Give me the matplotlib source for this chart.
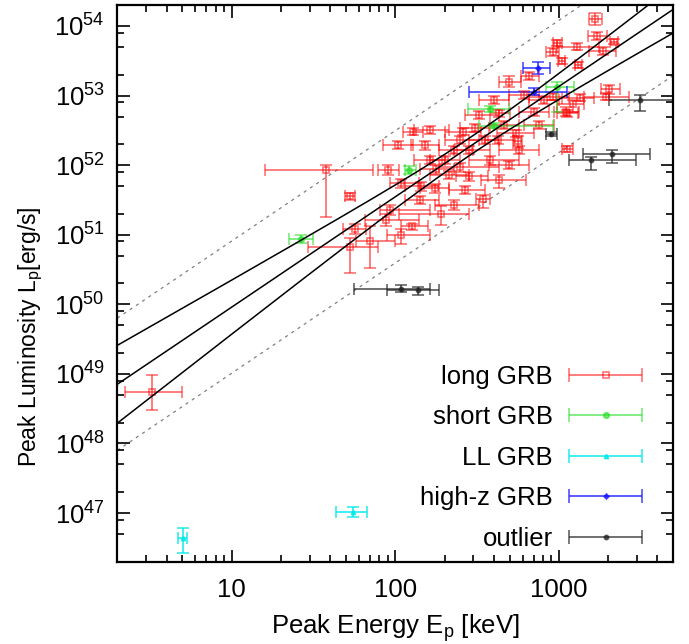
import numpy as np
import matplotlib
matplotlib.use("Agg")
import matplotlib.pyplot as plt
from matplotlib.container import ErrorbarContainer
from matplotlib.legend_handler import HandlerErrorbar
from matplotlib.ticker import (LogLocator, FixedLocator, FuncFormatter,
                               NullFormatter, LogFormatterMathtext)

plt.rcParams['font.family'] = ['Liberation Sans', 'DejaVu Sans']
plt.rcParams['mathtext.fontset'] = 'custom'
plt.rcParams['mathtext.rm'] = 'Liberation Sans'
plt.rcParams['mathtext.it'] = 'Liberation Sans:italic'
plt.rcParams['mathtext.bf'] = 'Liberation Sans:bold'

# === DATA (Ep in keV, Lp in units of 1e52 erg/s) ===
# long GRB
long_E = [3.25, 37.9, 52.6, 128, 103.8, 90.2, 108.8, 92.3, 88.1, 56.5, 52.6, 69.7,
          107.7, 126, 151, 1128, 178, 247, 284, 432, 144, 174, 342, 191, 258, 546,
          559, 327, 1104, 423, 432, 498, 660, 970, 914, 1664, 1718, 1298, 1864, 2175,
          1043, 1316, 2027, 1935, 1343, 1211, 1128, 914, 200, 230, 284, 351, 380, 464,
          214, 265, 573, 707, 759, 403, 813, 305, 162, 498, 230, 141, 162, 247, 614]
long_E_lo = [2.24, 16.1, 49.1, 111, 84, 78, 92.3, 80.2, 65, 47.9, 29.3, 57.3,
             88.5, 107.7, 125, 1043, 141, 186, 236, 334, 114, 141, 312, 106, 200, 421,
             526, 265, 936, 351, 380, 432, 589, 914, 834, 1530, 1515, 980, 1530, 2055,
             990, 1257, 1803, 1427, 1047, 977, 977, 660, 162, 186, 230, 284, 284, 380,
             162, 214, 432, 573, 614, 327, 660, 247, 131, 376, 174, 114, 131, 200, 498]
long_E_hi = [4.95, 73.0, 56.5, 147, 128, 106, 140.6, 162, 140.6, 66.6, 78.3, 99.1,
             162, 158, 186, 1211, 230, 432, 367, 630, 186, 214, 380, 281, 334, 707,
             597, 432, 1330, 534, 500, 589, 759, 1040, 1004, 1844, 1979, 1760, 2245, 2299,
             1092, 1387, 2355, 2684, 1641, 1427, 1311, 1156, 247, 300, 380, 432, 573, 573,
             284, 351, 759, 870, 936, 498, 1004, 376, 200, 660, 327, 186, 214, 327, 759]
long_L = [5.48e-4, 0.859, 0.356, 3.04, 1.96, 0.859, 0.554, 0.229, 0.165, 0.121, 0.0669, 0.0804,
          0.098, 0.132, 1.92, 1.72, 0.879, 0.94, 0.689, 0.618, 0.495, 0.469, 0.326, 0.201, 3.04, 2.89,
          2.19, 5.28, 5.89, 2.31, 5.6, 15.9, 19.2, 57, 42, 126, 72.6, 50, 43.8, 59.6,
          31.5, 27.3, 12.4, 9.68, 9.36, 7.6, 5.59, 9.68, 1.19, 1.66, 1.66, 2.31, 1.19, 3.80,
          0.728, 0.444, 1.66, 5.83, 3.80, 8.67, 8.67, 3.44, 1.19, 1.01, 0.271, 0.319, 3.22, 2.31, 10.2]
long_L_lo = [2.99e-4, 0.180, 0.319, 2.73, 1.72, 0.728, 0.474, 0.194, 0.135, 0.104, 0.0283, 0.0334,
             0.0745, 0.118, 1.66, 1.56, 0.753, 0.804, 0.598, 0.469, 0.43, 0.402, 0.242, 0.140, 2.73, 2.55,
             1.78, 4.63, 5.11, 2.03, 5.0, 13.3, 16.8, 51.6, 37.2, 103, 63, 45.3, 38.4, 55.2,
             28.5, 25, 10.6, 8.67, 8.39, 5.83, 4.95, 8.67, 1.05, 1.46, 1.46, 2.03, 1.01, 3.33,
             0.638, 0.389, 1.46, 5.11, 3.33, 7.6, 7.6, 3.01, 1.05, 0.887, 0.229, 0.279, 2.82, 2.03, 8.98]
long_L_hi = [9.5e-4, 1.01, 0.402, 3.44, 2.24, 1.01, 0.638, 0.271, 0.201, 0.144, 0.0908, 0.132,
             0.122, 0.144, 2.24, 1.90, 1.01, 1.08, 0.804, 0.728, 0.578, 0.541, 0.376, 0.256, 3.44, 3.22,
             2.64, 6.03, 6.89, 2.64, 6.3, 19.2, 21.9, 63, 48.3, 152, 82, 57, 50, 65,
             34.8, 30.5, 14.3, 10.9, 10.6, 8.67, 6.24, 10.9, 1.36, 1.90, 1.90, 2.64, 1.36, 4.33,
             0.813, 0.506, 1.90, 6.66, 4.33, 9.91, 9.91, 3.93, 1.36, 1.16, 0.319, 0.364, 3.67, 2.64, 11.7]

# short GRB
short_E = [122, 26.7, 380, 403, 980]
short_E_lo = [114, 22.3, 278, 327, 834]
short_E_hi = [134, 31.6, 498, 914, 1230]
short_L = [0.859, 0.0871, 6.38, 3.71, 13.2]
short_L_lo = [0.753, 0.0762, 5.83, 3.44, 5.83]
short_L_hi = [0.98, 0.0997, 7.11, 4.0, 15.7]

# low-luminosity GRB
ll_E = [5.02, 55.1]
ll_E_lo = [4.72, 43.7]
ll_E_hi = [5.36, 67.1]
ll_L = [4.37e-6, 1.05e-5]
ll_L_lo = [2.63e-6, 8.9e-6]
ll_L_hi = [6.0e-6, 1.23e-5]

# high-z GRB
hz_E = [741, 707]
hz_E_lo = [606, 284]
hz_E_hi = [881, 1128]
hz_L = [25.2, 11.4]
hz_L_lo = [20.5, 10.2]
hz_L_hi = [30.1, 12.9]

# outliers
out_E = [3133, 2124, 1567, 894, 108.8, 137.4]
out_E_lo = [2027, 1406, 1146, 834, 55.9, 89.3]
out_E_hi = [6237, 3590, 2951, 977, 161.9, 184.5]
out_L = [8.67, 1.46, 1.17, 2.79, 0.0167, 0.0159]
out_L_lo = [6.03, 1.07, 0.84, 2.64, 0.0148, 0.0138]
out_L_hi = [10.2, 1.66, 1.33, 2.95, 0.0187, 0.018]

# fit: log L = FIT_LP + FIT_SLOPE * (log E - FIT_PIVOT), with confidence band and scatter
FIT_SLOPE = 1.586
FIT_PIVOT = 2.454
FIT_LP = 52.265
BAND_S0 = 0.126
BAND_S1 = 0.253
SCATTER = 0.95

LABELS = ['long GRB', 'short GRB', 'LL GRB', 'high-z GRB', 'outlier']
Y_TICKS = [1e47, 1e48, 1e49, 1e50, 1e51, 1e52, 1e53, 1e54]
X_TICKS = [10, 100, 1000]
FS = 18.5


def draw(ax, E, E_lo, E_hi, L, L_lo, L_hi, color, marker, ms, mfc, alpha):
    E, E_lo, E_hi = np.array(E), np.array(E_lo), np.array(E_hi)
    L, L_lo, L_hi = np.array(L) * 1e52, np.array(L_lo) * 1e52, np.array(L_hi) * 1e52
    ax.errorbar(E, L, xerr=[E - E_lo, E_hi - E], yerr=[L - L_lo, L_hi - L],
                fmt=marker, ms=ms, mfc=mfc, mec=color, color=color, ecolor=color,
                elinewidth=1.3, capsize=4, capthick=1.3, alpha=alpha, mew=1.2)


fig = plt.figure(figsize=(6.89, 6.44), dpi=100)
ax = fig.add_axes([0.1702, 0.1278, 0.807, 0.8644])
ax.set_xscale('log')
ax.set_yscale('log')

# fit lines
logE = np.linspace(np.log10(2), np.log10(5000), 400)
mid = FIT_LP + FIT_SLOPE * (logE - FIT_PIVOT)
band = np.sqrt(BAND_S0**2 + BAND_S1**2 * (logE - FIT_PIVOT)**2)
E_line = 10**logE
ax.plot(E_line, 10**mid, color='black', lw=1.1, zorder=5)
ax.plot(E_line, 10**(mid + band), color='black', lw=1.1, zorder=5)
ax.plot(E_line, 10**(mid - band), color='black', lw=1.1, zorder=5)
ax.plot(E_line, 10**(mid + SCATTER), color='gray', lw=0.9, ls=(0, (2.5, 3.5)), zorder=1)
ax.plot(E_line, 10**(mid - SCATTER), color='gray', lw=0.9, ls=(0, (2.5, 3.5)), zorder=1)

# data
styles = [
    (long_E, long_E_lo, long_E_hi, long_L, long_L_lo, long_L_hi, 'red', 's', 4, 'none', 0.55),
    (short_E, short_E_lo, short_E_hi, short_L, short_L_lo, short_L_hi, '#22dd22', 'o', 4, '#22dd22', 0.6),
    (ll_E, ll_E_lo, ll_E_hi, ll_L, ll_L_lo, ll_L_hi, '#00e8e8', '^', 3, '#00e8e8', 0.8),
    (hz_E, hz_E_lo, hz_E_hi, hz_L, hz_L_lo, hz_L_hi, '#1515ff', 'D', 2.5, '#1515ff', 0.75),
    (out_E, out_E_lo, out_E_hi, out_L, out_L_lo, out_L_hi, '#222222', 'o', 3, '#222222', 0.7),
]
handles = []
for s in styles:
    draw(ax, *s)
    color, marker, ms, mfc, alpha = s[6:]
    h = ax.errorbar([np.nan], [np.nan], xerr=[[np.nan], [np.nan]], fmt=marker, ms=ms,
                    mfc=mfc, mec=color, color=color, ecolor=color, elinewidth=1.3,
                    capsize=5, capthick=1.3, alpha=alpha, mew=1.2)
    handles.append(h)

ax.set_xlim(2, 5000)
ax.set_ylim(2e46, 2e54)

ax.xaxis.set_major_locator(FixedLocator(X_TICKS))
ax.xaxis.set_major_formatter(FuncFormatter(lambda v, p: f'{v:.0f}'))
ax.xaxis.set_minor_locator(LogLocator(base=10, subs=np.arange(2, 10), numticks=20))
ax.xaxis.set_minor_formatter(NullFormatter())
ax.yaxis.set_major_locator(FixedLocator(Y_TICKS))
ax.yaxis.set_major_formatter(LogFormatterMathtext())
ax.yaxis.set_minor_locator(LogLocator(base=10, subs=(2, 5, 8), numticks=20))
ax.yaxis.set_minor_formatter(NullFormatter())

ax.tick_params(which='both', direction='in', top=True, right=True, width=1.2, colors='black')
ax.tick_params(which='major', length=9, labelsize=FS)
ax.tick_params(axis='x', which='major', pad=12)
ax.tick_params(axis='y', which='major', pad=9)
ax.tick_params(which='minor', length=5)
for sp in ax.spines.values():
    sp.set_linewidth(1.6)

ax.set_xlabel(r'Peak Energy E$_\mathregular{p}$ [keV]', fontsize=FS, labelpad=7)
ax.set_ylabel(r'Peak Luminosity L$_\mathregular{p}$[erg/s]', fontsize=16.5)
ax.yaxis.set_label_coords(-0.13, 0.405)

ax.legend(handles, LABELS, loc='lower right', bbox_to_anchor=(0.947, 0.02),
          frameon=False, markerfirst=False, fontsize=FS, handlelength=2.95,
          handletextpad=0.6, labelspacing=0.64, borderpad=0, borderaxespad=0,
          handler_map={ErrorbarContainer: HandlerErrorbar(xerr_size=1.42)})

fig.savefig('out.png', dpi=100)
